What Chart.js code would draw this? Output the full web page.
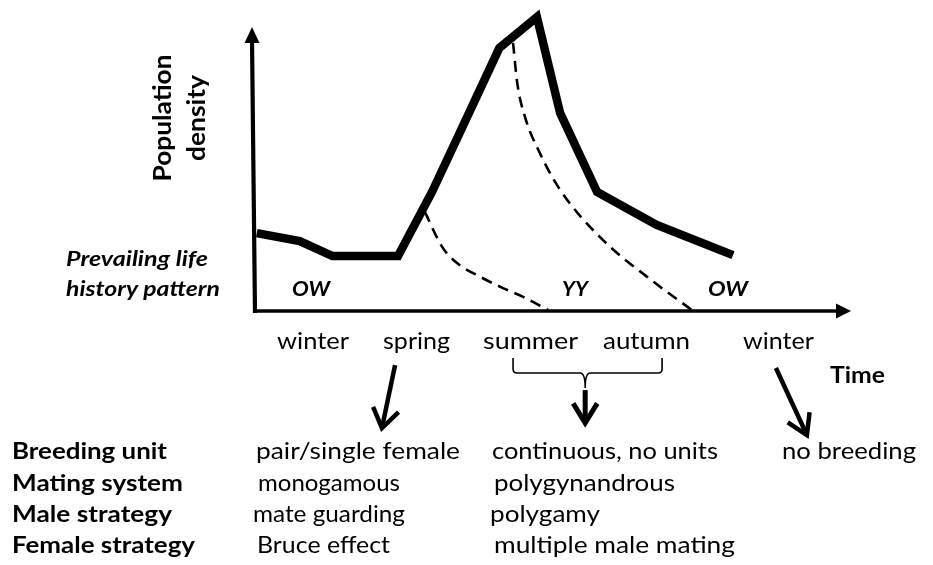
<!DOCTYPE html>
<html>
<head>
<meta charset="utf-8">
<script src="https://cdn.jsdelivr.net/npm/chart.js@4/dist/chart.umd.min.js"></script>
<style>
  html, body { margin: 0; padding: 0; background: #fff; }
  #wrap { position: relative; width: 933px; height: 565px; overflow: hidden; }
  #c { position: absolute; left: 0; top: 0; }
  .t { position: absolute; white-space: nowrap; font-family: Lato, "Open Sans", sans-serif; color: #000; line-height: 1; }
  .b { font-weight: 700; }
  .i { font-style: italic; }
</style>
</head>
<body>
<div id="wrap">
  <canvas id="c" width="933" height="565"></canvas>
</div>
<script>
// ---- data (time units 0..100, density units 0..100) ----
const popX   = [0.3, 7.5, 13.0, 24.0, 29.7, 35.2, 41.0, 47.3, 51.2, 57.4, 67.4, 80.2];
const popY   = [26.5, 23.8, 18.7, 18.7, 40.5, 64.3, 89.5, 100, 67.3, 40.5, 29.3, 19.0];
const owDeclineX = [28.5, 31.4, 33.9, 37.8, 41.6, 45.0, 49.2];
const owDeclineY = [33.7, 21.8, 16.3, 11.6, 7.8, 4.8, 0.3];
const yyDeclineX = [43.3, 44.0, 45.3, 47.8, 51.2, 58.4, 65.8, 73.5];
const yyDeclineY = [91.2, 77.6, 66.0, 53.7, 41.2, 24.1, 11.6, 0.0];

// axes extents and arrow annotations in the same units
const yAxisFrom = [0.0, -0.7];  const yAxisTo = [-0.5, 96.6];
const xAxisFrom = [0.0, 0.0];   const xAxisTo = [100, 0.0];
const springArrow = [[23.5, -18.4], [21.3, -39.8]];
const summerArrow = [[55.4, -26.9], [55.4, -38.1]];
const winterArrow = [[87.4, -19.4], [92.6, -42.2]];
const braceX = [43.3, 55.4, 68.3];        // left, centre, right
const braceY = [-16.0, -21.1, -26.2];     // top, bar, cusp

// ---- text ----
const seasons = ["winter", "spring", "summer", "autumn", "winter"];
const rowLabels = ["Breeding unit", "Mating system", "Male strategy", "Female strategy"];
const springTraits = ["pair/single female", "monogamous", "mate guarding", "Bruce effect"];
const summerTraits = ["continuous, no units", "polygynandrous", "polygamy", "multiple male mating"];
const winterTraits = ["no breeding"];
const patterns = ["OW", "YY", "OW"];

const pts = (xs, ys) => xs.map((x, i) => ({ x: x, y: ys[i] }));

const annot = {
  id: 'annot',
  beforeDatasetsDraw(chart) {
    const { ctx, scales: { x, y } } = chart;
    const P = (a) => [x.getPixelForValue(a[0]), y.getPixelForValue(a[1])];
    ctx.save();
    ctx.strokeStyle = '#000'; ctx.fillStyle = '#000';
    // y axis
    let a = P(yAxisFrom), b = P(yAxisTo);
    ctx.lineWidth = 4.2; ctx.lineCap = 'butt';
    ctx.beginPath(); ctx.moveTo(a[0], a[1]); ctx.lineTo(b[0], b[1] + 14); ctx.stroke();
    ctx.beginPath(); ctx.moveTo(b[0], b[1]); ctx.lineTo(b[0] - 7.5, b[1] + 16); ctx.lineTo(b[0] + 7.5, b[1] + 16); ctx.closePath(); ctx.fill();
    // x axis
    a = P(xAxisFrom); b = P(xAxisTo);
    ctx.lineWidth = 3.6;
    ctx.beginPath(); ctx.moveTo(a[0] - 1, a[1]); ctx.lineTo(b[0] - 12, b[1]); ctx.stroke();
    ctx.beginPath(); ctx.moveTo(b[0], b[1]); ctx.lineTo(b[0] - 15, b[1] - 7.5); ctx.lineTo(b[0] - 15, b[1] + 7.5); ctx.closePath(); ctx.fill();
    ctx.restore();
  },
  afterDatasetsDraw(chart) {
    const { ctx, scales: { x, y } } = chart;
    const P = (a) => [x.getPixelForValue(a[0]), y.getPixelForValue(a[1])];
    ctx.save();
    ctx.strokeStyle = '#000';
    const arrow = (seg, w, len, ang) => {
      const s = P(seg[0]), t = P(seg[1]);
      const th = Math.atan2(t[1] - s[1], t[0] - s[0]);
      ctx.lineWidth = w; ctx.lineCap = 'butt'; ctx.lineJoin = 'miter';
      ctx.beginPath(); ctx.moveTo(s[0], s[1]); ctx.lineTo(t[0] - Math.cos(th) * 2, t[1] - Math.sin(th) * 2); ctx.stroke();
      ctx.beginPath();
      ctx.moveTo(t[0] - len * Math.cos(th - ang), t[1] - len * Math.sin(th - ang));
      ctx.lineTo(t[0], t[1]);
      ctx.lineTo(t[0] - len * Math.cos(th + ang), t[1] - len * Math.sin(th + ang));
      ctx.stroke();
    };
    arrow(springArrow, 4.5, 23, 0.6);
    arrow(summerArrow, 5, 23, 0.55);
    arrow(winterArrow, 4.5, 23, 0.55);
    // brace
    const xl = x.getPixelForValue(braceX[0]), xc = x.getPixelForValue(braceX[1]), xr = x.getPixelForValue(braceX[2]);
    const yt = y.getPixelForValue(braceY[0]), yb = y.getPixelForValue(braceY[1]), yc = y.getPixelForValue(braceY[2]);
    ctx.lineWidth = 1.6;
    ctx.beginPath();
    ctx.moveTo(xl, yt); ctx.lineTo(xl, yb - 4); ctx.quadraticCurveTo(xl, yb, xl + 4, yb);
    ctx.lineTo(xc - 5, yb); ctx.quadraticCurveTo(xc, yb, xc, yc);
    ctx.quadraticCurveTo(xc, yb, xc + 5, yb);
    ctx.lineTo(xr - 4, yb); ctx.quadraticCurveTo(xr, yb, xr, yb - 4); ctx.lineTo(xr, yt);
    ctx.stroke();
    ctx.restore();
  }
};

const chart = new Chart(document.getElementById('c'), {
  type: 'line',
  data: {
    datasets: [
      { label: 'Population density', data: pts(popX, popY), borderColor: '#000', borderWidth: 8.5,
        pointRadius: 0, tension: 0, borderJoinStyle: 'miter', borderCapStyle: 'butt', clip: false },
      { label: 'OW decline', data: pts(owDeclineX, owDeclineY), borderColor: '#000', borderWidth: 2.6,
        borderDash: [11, 7], pointRadius: 0, cubicInterpolationMode: 'monotone', clip: false },
      { label: 'YY decline', data: pts(yyDeclineX, yyDeclineY), borderColor: '#000', borderWidth: 2.6,
        borderDash: [11, 7], pointRadius: 0, cubicInterpolationMode: 'monotone', clip: false }
    ]
  },
  options: {
    responsive: false, animation: false, devicePixelRatio: 1,
    layout: { padding: { left: 255, right: 82, top: 17, bottom: 254 } },
    scales: {
      x: { type: 'linear', min: 0, max: 100, display: false },
      y: { type: 'linear', min: 0, max: 100, display: false }
    },
    plugins: { legend: { display: false }, tooltip: { enabled: false } },
    events: []
  },
  plugins: [annot]
});

// ---- HTML labels: [text, x, baseline, classes, font size, target width, rotated] ----
const labels = [
  ["Population", 171, 118, "b", 24, 127, true],
  ["density", 205, 118, "b", 24, 86, true],
  ["Prevailing life", 66, 266, "b i", 21.5, 142],
  ["history pattern", 66, 296, "b i", 21.5, 154],
  [patterns[0], 292, 296, "b i", 21.5, 38],
  [patterns[1], 562, 296, "b i", 21.5, 26],
  [patterns[2], 708, 296, "b i", 21.5, 40],
  [seasons[0], 277, 349, "", 24, 72],
  [seasons[1], 383, 349, "", 24, 67],
  [seasons[2], 483, 349, "", 24, 95],
  [seasons[3], 603, 349, "", 24, 87],
  [seasons[4], 743, 349, "", 24, 71],
  ["Time", 830, 383, "b", 23, 55],
  [rowLabels[0], 12, 459, "b", 23, 155],
  [rowLabels[1], 12, 490.5, "b", 23, 171],
  [rowLabels[2], 12, 522, "b", 23, 160],
  [rowLabels[3], 12, 553, "b", 23, 183],
  [springTraits[0], 256, 459, "", 24, 204],
  [springTraits[1], 258, 490.5, "", 24, 142],
  [springTraits[2], 253, 522, "", 24, 152],
  [springTraits[3], 257, 553, "", 24, 133],
  [summerTraits[0], 492, 459, "", 24, 226],
  [summerTraits[1], 494, 490.5, "", 24, 181],
  [summerTraits[2], 490, 522, "", 24, 110],
  [summerTraits[3], 494, 553, "", 24, 241],
  [winterTraits[0], 782, 459, "", 24, 134]
];
const wrap = document.getElementById('wrap');
function place() {
  labels.forEach(l => {
    const el = document.createElement('div');
    el.className = 't ' + l[3];
    el.style.fontSize = l[4] + 'px';
    el.textContent = l[0];
    const probe = document.createElement('span');
    probe.style.cssText = 'display:inline-block;width:0;height:0;vertical-align:baseline';
    el.appendChild(probe);
    wrap.appendChild(el);
    const base = probe.offsetTop;
    const w = el.getBoundingClientRect().width;
    const s = l[5] / w;
    if (l[6]) {
      el.style.left = (l[1] - w / 2) + 'px';
      el.style.top = (l[2] - base) + 'px';
      el.style.transformOrigin = (w / 2) + 'px ' + base + 'px';
      el.style.transform = 'rotate(-90deg) scaleX(' + s + ')';
    } else {
      el.style.left = l[1] + 'px';
      el.style.top = (l[2] - base) + 'px';
      el.style.transformOrigin = '0px ' + base + 'px';
      el.style.transform = 'scaleX(' + s + ')';
    }
  });
}
if (document.fonts && document.fonts.ready) { document.fonts.ready.then(place); } else { place(); }
</script>
</body>
</html>
